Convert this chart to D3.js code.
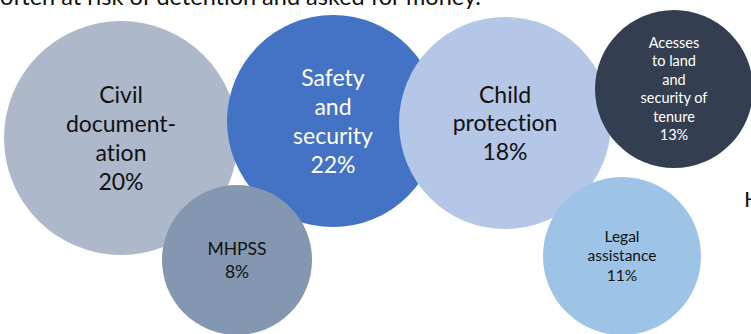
<!DOCTYPE html>
<html><head><meta charset="utf-8">
<script src="https://cdn.jsdelivr.net/npm/d3@7"></script>
<style>html,body{margin:0;padding:0;background:#fff;overflow:hidden}svg{display:block}text{font-variant-ligatures:none;font-feature-settings:"liga" 0}</style>
</head><body>
<script>
// data
const categories = ["Civil documentation", "Safety and security", "Child protection", "Acesses to land and security of tenure", "MHPSS", "Legal assistance"];
const labelLines = [["Civil", "document-", "ation"], ["Safety", "and", "security"], ["Child", "protection"], ["Acesses", "to land", "and", "security of", "tenure"], ["MHPSS"], ["Legal", "assistance"]];
const values = [20, 22, 18, 13, 8, 11];
const colors = ["#ADB9CA", "#4472C4", "#B4C7E7", "#333F50", "#8497B0", "#9DC3E6"];
const textColors = ["#111", "#fff", "#111", "#fff", "#111", "#111"];
const headerText = "often at risk of detention and asked for money.";

// layout (positions/sizes)
const cxs = [121, 333, 505, 674, 237, 622];
const cys = [138, 121, 123, 89, 260, 256];
const radii = [117, 106, 106, 79, 75, 79];
const fontSizes = [23, 23, 23, 14.5, 17.5, 15.5];
const lineHeights = [29, 29, 28.5, 18.5, 23, 19.5];

const W = 751, H = 334;
const svg = d3.select("body").append("svg").attr("width", W).attr("height", H);
const font = "Lato, 'Open Sans', sans-serif";

svg.append("text").attr("x", 0).attr("y", 5).attr("font-family", font).attr("font-size", 23.5)
  .attr("fill", "#111").text(headerText);
svg.append("text").attr("x", 744).attr("y", 207).attr("font-family", font).attr("font-size", 22)
  .attr("fill", "#111").text("H");

const nodes = categories.map((c, i) => ({c, v: values[i], lines: labelLines[i].concat([values[i] + "%"]), i}));

const g = svg.selectAll("g.bubble").data(nodes).join("g").attr("class", "bubble")
  .attr("transform", d => `translate(${cxs[d.i]},${cys[d.i]})`);
g.append("circle").attr("r", d => radii[d.i]).attr("fill", d => colors[d.i]);
g.each(function(d) {
  const n = d.lines.length, lh = lineHeights[d.i], fs = fontSizes[d.i];
  const t = d3.select(this).append("text").attr("text-anchor", "middle")
    .attr("font-family", font).attr("font-size", fs).attr("fill", textColors[d.i]);
  d.lines.forEach((l, k) => {
    t.append("tspan").attr("x", 0).attr("y", (k - (n - 1) / 2) * lh + fs * 0.35).text(l);
  });
});
</script>
</body></html>
